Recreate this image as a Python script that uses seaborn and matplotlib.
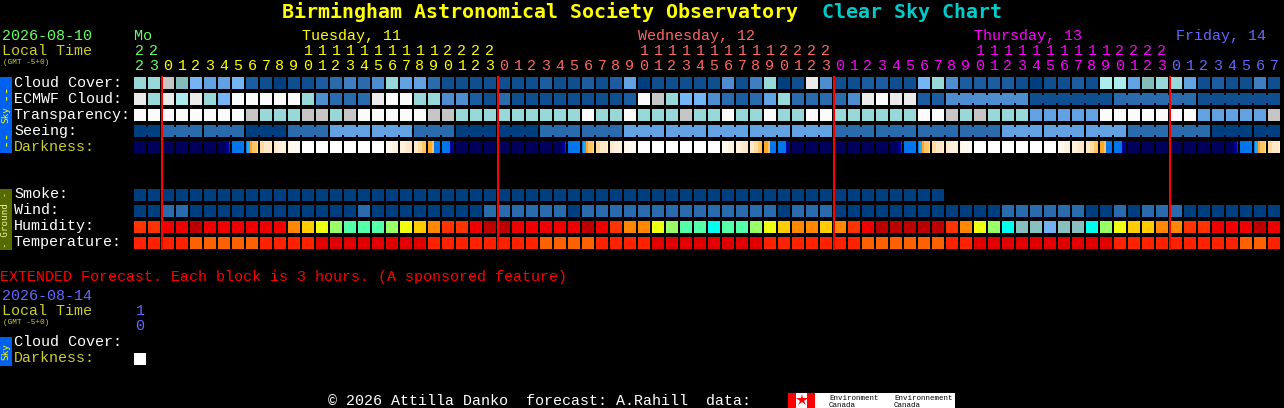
import numpy as np
import matplotlib
matplotlib.use("Agg")
import matplotlib.pyplot as plt
from matplotlib.colors import ListedColormap
from matplotlib.patches import Rectangle
import seaborn as sns

sns.set_style("dark")
plt.rcParams["font.family"] = ["Liberation Mono", "DejaVu Sans Mono"]

# ---------- data ----------
title_main = "Birmingham Astronomical Society Observatory"
title_side = "Clear Sky Chart"

hours = [22, 23] + [0, 1, 2, 3, 4, 5, 6, 7, 8, 9, 10, 11, 12, 13, 14, 15, 16, 17, 18, 19, 20, 21, 22, 23] * 3 + [0, 1, 2, 3, 4, 5, 6, 7]
midnight_columns = [2, 26, 50, 74]
day_labels = ["Mo", "Tuesday, 11", "Wednesday, 12", "Thursday, 13", "Friday, 14"]
day_label_columns = [0, 12, 36, 60, 74.43]
day_colors = ["#66ff66", "#ffff00", "#ff6666", "#ff00ff", "#6666ff"]

sky_palette = ["#003f7f", "#0f4f8f", "#1b5da0", "#2a6bad", "#3f7fc1", "#4e8ed0", "#62a2e3",
               "#75b5f5", "#84bcbc", "#98d8d8", "#acecec", "#c6c6c6", "#ebebeb", "#fbfbfb"]
humidity_palette = ["#bb0000", "#ee0000", "#ff3300", "#ff8800", "#ffcc00", "#eeff11",
                    "#99ff66", "#55ffaa", "#00ffee", "#88c0c0", "#75b1f1"]
temperature_palette = ["#e00000", "#ff2200", "#ff6000"]
darkness_palette = ["#00005c", "#000099", "#0033cc", "#0075ec", "#22aaee", "#ffaa22",
                    "#ffc566", "#ffdca5", "#ffe8c8", "#fff1de", "#fff9f2", "#ffffff"]

cloud_cover = [9, 9, 11, 8, 7, 6, 6, 7, 2, 1, 0, 1, 1, 2, 3, 4, 3, 5, 9, 6, 6,
               3, 1, 1, 1, 1, 1, 1, 1, 2, 1, 1, 2, 1, 2, 6, 0, 1, 1, 1, 1, 1, 5, 1, 4, 9, 0, 1, 12, 5, 1, 1,
               2, 2, 1, 1, 7, 9, 5, 2, 2, 2, 2, 1, 0, 1, 1, 2, 1, 10, 10, 6, 8, 9, 9, 6, 1, 2, 1, 1, 4, 1]
ecmwf_cloud = [12, 9, 12, 10, 12, 9, 7, 13, 13, 13, 13, 13, 9, 5, 3, 3, 3, 12, 13, 13, 9,
               9, 5, 5, 2, 1, 3, 1, 1, 1, 1, 1, 1, 1, 1, 2, 13, 11, 9, 7, 7, 5, 3, 2, 3, 6, 9, 3, 3, 3, 3, 5,
               12, 13, 12, 12, 2, 2, 5, 5, 5, 5, 5, 5, 1, 1, 1, 1, 1, 1, 3, 3, 3, 3, 3, 3, 1, 1, 1, 1, 1, 1]
ecmwf_joined_from = [58, 64, 70, 76]
ecmwf_span = [6, 6, 6, 6]
transparency = [13, 13, 13, 13, 13, 13, 13, 13, 11, 9, 9, 9, 11, 11, 9, 11, 13, 13, 13, 13, 13,
                11, 11, 9, 9, 9, 9, 9, 9, 9, 9, 9, 13, 9, 9, 13, 9, 9, 9, 11, 9, 9, 13, 9, 9, 13, 9, 9, 13, 13, 9, 9,
                9, 9, 9, 9, 13, 13, 11, 9, 11, 9, 9, 9, 6, 6, 6, 6, 6, 13, 13, 13, 13, 13, 13, 13, 6, 6, 6, 6, 6, 11]
seeing = [0, 0, 3, 3, 3, 3, 3, 3, 0, 0, 0, 3, 3, 3, 6, 6, 6, 6, 6, 6, 3, 3, 3, 0, 0, 0, 0, 0, 0,
          3, 3, 3, 3, 3, 3, 6, 6, 6, 6, 6, 6, 6, 6, 6, 6, 6, 6, 6, 6, 6, 3, 3, 3, 3, 3, 3, 3, 3, 3,
          3, 3, 3, 6, 6, 6, 6, 6, 6, 6, 6, 6, 3, 3, 3, 3, 3, 3, 0, 0, 0, 0, 0]
seeing_joined_from = [0, 2, 5, 8, 11, 14, 17, 20, 23, 26, 29, 32, 35, 38, 41, 44, 47, 50, 53, 56, 59, 62, 65, 68, 71, 74, 77, 80]
seeing_span = [2] + [3] * 26 + [2]
darkness = ["000000", "000000", "000000", "000000", "000000", "000000", "000012", "333333", "345667", "778889",
            "889999", "9aaaaa", "bbbbbb", "bbbbbb", "bbbbbb", "bbbbbb", "bbbbbb", "bbbbbb", "aaa999", "999888",
            "887766", "556333", "333311", "000000", "000000", "000000", "000000", "000000", "000000", "000000",
            "000012", "333333", "345667", "778889", "889999", "9aaaaa", "bbbbbb", "bbbbbb", "bbbbbb", "bbbbbb",
            "bbbbbb", "bbbbbb", "aaa999", "999888", "887766", "556333", "333311", "000000", "000000", "000000",
            "000000", "000000", "000000", "000000", "000012", "333333", "345667", "778889", "889999", "9aaaaa",
            "bbbbbb", "bbbbbb", "bbbbbb", "bbbbbb", "bbbbbb", "bbbbbb", "aaa999", "999888", "887766", "556333",
            "333311", "000000", "000000", "000000", "000000", "000000", "000000", "000000", "000012", "333333",
            "345667", "778889"]
smoke = [0] * 58
wind = [0, 0, 3, 3, 0, 0, 0, 0, 0, 0, 0, 0, 0, 0, 0, 0, 3, 0, 0, 0, 0, 0, 0, 0, 0, 3, 3, 3, 3, 3, 3, 0,
        3, 3, 3, 3, 3, 3, 3, 3, 3, 3, 3, 3, 3, 3, 0, 3, 3, 3, 0, 0, 0, 0, 0, 0, 0, 0, 0, 0, 0, 0,
        3, 3, 3, 3, 3, 3, 0, 0, 3, 0, 3, 3, 3, 0, 0, 0, 0, 0, 0, 0]
humidity = [2, 2, 1, 1, 0, 1, 1, 1, 1, 1, 1, 3, 4, 5, 6, 7, 7, 7, 6, 5, 4,
            3, 2, 2, 1, 0, 0, 1, 1, 1, 1, 1, 0, 1, 2, 3, 3, 5, 6, 7, 7, 8, 7, 7, 6, 5, 4, 3, 3, 4, 3, 2,
            1, 0, 0, 0, 0, 0, 2, 3, 5, 6, 8, 9, 9, 10, 9, 9, 8, 6, 5, 4, 4, 3, 3, 2, 2, 1, 1, 1, 0, 1]
temperature = [1, 1, 1, 1, 2, 2, 2, 2, 2, 1, 1, 1, 1, 0, 0, 0, 0, 0, 0, 0, 0,
               1, 1, 1, 1, 1, 1, 1, 1, 2, 2, 2, 2, 1, 1, 1, 1, 0, 0, 0, 0, 0, 0, 0, 0, 1, 1, 1, 1, 1, 1, 1,
               2, 2, 2, 2, 2, 2, 1, 1, 0, 0, 0, 0, 0, 0, 0, 0, 0, 0, 1, 1, 1, 1, 1, 1, 1, 1, 1, 2, 2, 1]
extended_darkness = [11]

sky_labels = ["Cloud Cover:", "ECMWF Cloud:", "Transparency:", "Seeing:", "Darkness:"]
ground_labels = ["Smoke:", "Wind:", "Humidity:", "Temperature:"]

# ---------- layout (pixels) ----------
W, H = 1284, 408
PITCH = 14
GRID_LEFT = 133
fig = plt.figure(figsize=(W / 100, H / 100), dpi=100, facecolor="black")


def row_axes(top, ncol=82, height=14):
    ax = fig.add_axes([GRID_LEFT / W, 1 - (top + height) / H, ncol * PITCH / W, height / H])
    ax.set_facecolor("black")
    return ax


def draw_row(values, palette, top, total=82):
    ax = row_axes(top, ncol=total)
    arr = np.full((1, total), np.nan)
    arr[0, :len(values)] = values
    sns.heatmap(arr, ax=ax, cmap=ListedColormap(palette), vmin=-0.5, vmax=len(palette) - 0.5,
                cbar=False, xticklabels=False, yticklabels=False,
                linewidths=1.44, linecolor="black", mask=np.isnan(arr))
    return ax


def join_cells(ax, values, palette, starts, spans):
    for s, n in zip(starts, spans):
        for k in range(n - 1):
            b = s + k + 1
            ax.hlines(0.5, b - 1.2 / PITCH, b + 1.2 / PITCH, color=palette[values[s]],
                      lw=5.76, zorder=5, capstyle="butt")


ax = draw_row(cloud_cover, sky_palette, 76)
ax = draw_row(ecmwf_cloud, sky_palette, 92)
join_cells(ax, ecmwf_cloud, sky_palette, ecmwf_joined_from, ecmwf_span)
ax = draw_row(transparency, sky_palette, 108)
ax = draw_row(seeing, sky_palette, 124)
join_cells(ax, seeing, sky_palette, seeing_joined_from, seeing_span)

# darkness has a gradient inside each block: six readings per block
SUB = len(darkness[0])
dark_values = np.array([[int(ch, 16) for cell in darkness for ch in cell]], dtype=float)
ax = row_axes(141, height=12)
sns.heatmap(dark_values, ax=ax, cmap=ListedColormap(darkness_palette), vmin=-0.5,
            vmax=len(darkness_palette) - 0.5, cbar=False, xticklabels=False, yticklabels=False)
ax.vlines(np.arange(len(darkness) + 1) * SUB, 0, 1, color="black", lw=1.44, zorder=5)

draw_row(smoke, sky_palette, 188)
draw_row(wind, sky_palette, 204)
draw_row(humidity, humidity_palette, 220)
draw_row(temperature, temperature_palette, 236)
draw_row(extended_darkness, darkness_palette, 352)

# ---------- overlay in pixel units: text, bars, red lines, logo ----------
ov = fig.add_axes([0, 0, 1, 1], zorder=10)
ov.set_xlim(0, W)
ov.set_ylim(H, 0)
ov.axis("off")
ov.patch.set_alpha(0)

BODY = 10.8
TINY = 5.6
LOGO = 5.4
LABEL_YELLOW = "#cccc33"
MONO = "DejaVu Sans Mono"
cx = lambda c: GRID_LEFT + 1 + PITCH * c

ov.text(282, 18, title_main, color="#ffff00", fontsize=14.4, fontweight="bold", va="baseline", family=MONO)
ov.text(822, 18, title_side, color="#00cccc", fontsize=14.4, fontweight="bold", va="baseline", family=MONO)

ov.text(2, 40, "2026-08-10", color=day_colors[0], fontsize=BODY, va="baseline")
ov.text(2, 55, "Local Time", color=LABEL_YELLOW, fontsize=BODY, va="baseline")
ov.text(3, 64, "(GMT -5+0)", color=LABEL_YELLOW, fontsize=TINY, va="baseline")

for label, c, col in zip(day_labels, day_label_columns, day_colors):
    ov.text(cx(c), 40, label, color=col, fontsize=BODY, va="baseline")

day_index = 0
for c, h in enumerate(hours):
    if c in midnight_columns:
        day_index += 1
    col = day_colors[day_index]
    x = cx(c) + 6
    ov.text(x, 70, str(h % 10), color=col, fontsize=BODY, va="baseline", ha="center")
    if h >= 10:
        ov.text(x, 55, str(h // 10), color=col, fontsize=BODY, va="baseline", ha="center")

for i, label in enumerate(sky_labels):
    ov.text(14, 87 + 16 * i, label, color=LABEL_YELLOW if label == "Darkness:" else "white",
            fontsize=BODY, va="baseline")
for i, label in enumerate(ground_labels):
    ov.text(14, 198 + 16 * i, label, color="white", fontsize=BODY, va="baseline")

ov.add_patch(Rectangle((0, 77), 12, 76, color="#0060f0", lw=0))
ov.add_patch(Rectangle((0, 189), 12, 61, color="#556b00", lw=0))
ov.add_patch(Rectangle((0, 337), 12, 29, color="#0060f0", lw=0))
ov.text(6, 115, "Sky", color="#ffff00", fontsize=6.7, rotation=90, ha="center", va="center", family=MONO)
ov.text(6, 91.5, "--", color="#ffff00", fontsize=10, rotation=90, ha="center", va="center", family=MONO)
ov.text(6, 138, "--", color="#ffff00", fontsize=10, rotation=90, ha="center", va="center", family=MONO)
ov.text(6, 219.5, "- Ground -", color="#f0f0a0", fontsize=6.7, rotation=90, ha="center", va="center", family=MONO)
ov.text(6, 351.5, "Sky", color="#ffff00", fontsize=6.7, rotation=90, ha="center", va="center", family=MONO)

ov.vlines([cx(c) for c in midnight_columns], 76, 250, color="#ff0000", lw=1.44)

ov.text(0, 281, "EXTENDED Forecast. Each block is 3 hours. (A sponsored feature)",
        color="#ff0000", fontsize=BODY, va="baseline")
ov.text(2, 300, "2026-08-14", color=day_colors[4], fontsize=BODY, va="baseline")
ov.text(2, 315, "Local Time", color=LABEL_YELLOW, fontsize=BODY, va="baseline")
ov.text(3, 324, "(GMT -5+0)", color=LABEL_YELLOW, fontsize=TINY, va="baseline")
ov.text(cx(0) + 6, 315, "1", color=day_colors[4], fontsize=BODY, va="baseline", ha="center")
ov.text(cx(0) + 6, 330, "0", color=day_colors[4], fontsize=BODY, va="baseline", ha="center")
ov.text(14, 346, "Cloud Cover:", color="white", fontsize=BODY, va="baseline")
ov.text(14, 362, "Darkness:", color=LABEL_YELLOW, fontsize=BODY, va="baseline")

ov.text(328, 405, "\u00a9 2026 Attilla Danko  forecast: A.Rahill  data:", color="white",
        fontsize=BODY, va="baseline")

ov.add_patch(Rectangle((788, 393), 167, 15, color="white", lw=0))
ov.add_patch(Rectangle((788, 393), 8, 15, color="#ff0000", lw=0))
ov.add_patch(Rectangle((807, 393), 8, 15, color="#ff0000", lw=0))
ov.plot([801.5], [400], marker="*", color="#ff0000", ms=9, mew=0)
ov.text(829, 400, "Environment", color="black", fontsize=LOGO, va="baseline")
ov.text(829, 407, "Canada", color="black", fontsize=LOGO, va="baseline")
ov.text(894, 400, "Environnement", color="black", fontsize=LOGO, va="baseline")
ov.text(894, 407, "Canada", color="black", fontsize=LOGO, va="baseline")

fig.savefig("out.png", dpi=100, facecolor="black")
